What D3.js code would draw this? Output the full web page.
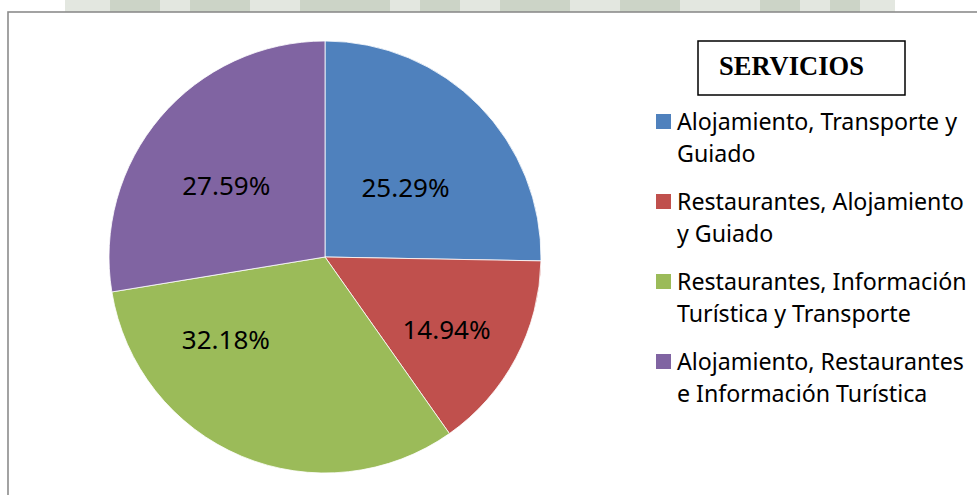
<!DOCTYPE html>
<html>
<head>
<meta charset="utf-8">
<script src="https://cdn.jsdelivr.net/npm/d3@7"></script>
<style>
  body { margin: 0; background: #fff; }
  svg { display: block; }
</style>
</head>
<body>
<svg id="chart" width="977" height="495"></svg>
<script>
// data: number of answers per service group (22+13+28+24 = 87)
var categories = [
    ["Alojamiento, Transporte y", "Guiado"],
    ["Restaurantes, Alojamiento", "y Guiado"],
    ["Restaurantes, Información", "Turística y Transporte"],
    ["Alojamiento, Restaurantes", "e Información Turística"]
];
var counts = [22, 13, 28, 24];
var colors = ["#4F81BD", "#C0504D", "#9BBB59", "#8064A2"];
var legendTitle = "SERVICIOS";

// label tweaks (Excel "best fit" moves them off the centroid)
var labelNudge = [[-12, 21], [7, 12], [-49, -37], [0, 13]];

var width = 977, height = 495;
var svg = d3.select("#chart");

// faint scanned watermark above the chart frame
var band = svg.append("g");
band.append("rect")
    .attr("x", 65).attr("y", 0)
    .attr("width", 830).attr("height", 12)
    .attr("fill", "#e3e7e0");
var patches = [[110, 50], [190, 60], [300, 90], [420, 40], [500, 70], [620, 60], [760, 40], [830, 30]];
band.selectAll("rect.patch")
    .data(patches)
    .enter().append("rect")
    .attr("class", "patch")
    .attr("x", function(d) { return d[0]; })
    .attr("y", 0)
    .attr("width", function(d) { return d[1]; })
    .attr("height", 12)
    .attr("fill", "#ccd4c7");

// chart frame (right/bottom edges run off the picture)
svg.append("rect")
    .attr("x", 8).attr("y", 12)
    .attr("width", width + 20).attr("height", height)
    .attr("fill", "#fff")
    .attr("stroke", "#8c8c8c")
    .attr("stroke-width", 1.6);

var cx = 325, cy = 257, radius = 216;

var total = d3.sum(counts);
var data = counts.map(function(c, i) {
    return { i: i, value: c, pct: c / total * 100 };
});

var pie = d3.pie()
    .sort(null)
    .value(function(d) { return d.value; });

var arc = d3.arc().innerRadius(0).outerRadius(radius);
var labelArc = d3.arc().innerRadius(radius * 0.6).outerRadius(radius * 0.6);

var g = svg.append("g")
    .attr("transform", "translate(" + cx + "," + cy + ")");

var arcs = pie(data);

g.selectAll("path")
    .data(arcs)
    .enter().append("path")
    .attr("d", arc)
    .attr("fill", function(d) { return colors[d.data.i]; })
    .attr("stroke", "#fff")
    .attr("stroke-width", 0.8);

g.selectAll("text.lbl")
    .data(arcs)
    .enter().append("text")
    .attr("class", "lbl")
    .attr("transform", function(d) {
        var c = labelArc.centroid(d);
        var n = labelNudge[d.data.i];
        return "translate(" + (c[0] + n[0]) + "," + (c[1] + n[1]) + ")";
    })
    .attr("text-anchor", "middle")
    .attr("dy", "0.36em")
    .attr("font-family", "'Noto Sans', 'Open Sans', sans-serif")
    .attr("font-size", 26)
    .attr("fill", "#000")
    .text(function(d) { return d.data.pct.toFixed(2) + "%"; });

// legend
var lg = svg.append("g");

lg.append("rect")
    .attr("x", 698).attr("y", 41)
    .attr("width", 207).attr("height", 54)
    .attr("fill", "#fff")
    .attr("stroke", "#000")
    .attr("stroke-width", 1.5);

lg.append("text")
    .attr("x", 719).attr("y", 75)
    .attr("font-family", "'Liberation Serif', 'Times New Roman', serif")
    .attr("font-weight", "bold")
    .attr("font-size", 26.5)
    .attr("fill", "#000")
    .text(legendTitle);

var itemY = d3.scaleLinear().domain([0, 1]).range([130, 210]);

var items = lg.selectAll("g.item")
    .data(categories)
    .enter().append("g")
    .attr("class", "item")
    .attr("transform", function(d, i) { return "translate(0," + itemY(i) + ")"; });

items.append("rect")
    .attr("x", 656).attr("y", -16)
    .attr("width", 15).attr("height", 15)
    .attr("fill", function(d, i) { return colors[i]; });

items.append("text")
    .attr("x", 677)
    .attr("font-family", "'Noto Sans', 'Open Sans', sans-serif")
    .attr("font-size", 23.2)
    .attr("fill", "#000")
    .selectAll("tspan")
    .data(function(d) { return d; })
    .enter().append("tspan")
    .attr("x", 677)
    .attr("dy", function(d, j) { return j === 0 ? 0 : 32; })
    .text(function(d) { return d; });
</script>
</body>
</html>
